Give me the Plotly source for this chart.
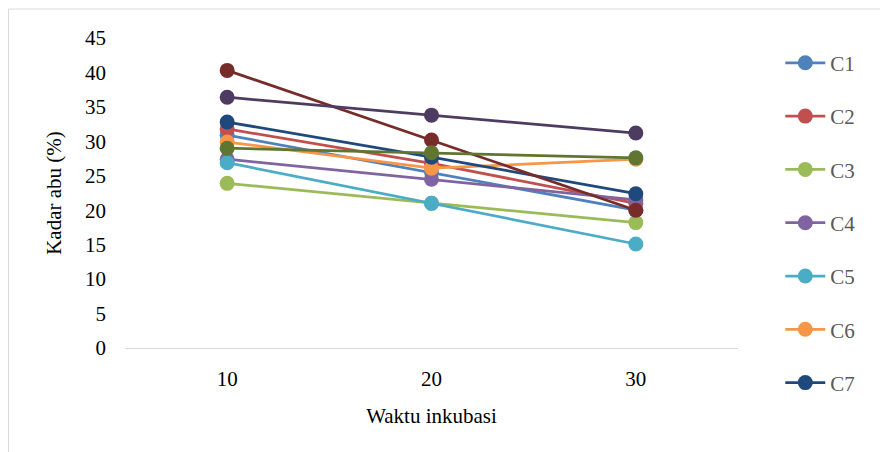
import plotly.graph_objects as go

waktu = ["10", "20", "30"]
series_names = ["C1", "C2", "C3", "C4", "C5", "C6", "C7", "C8", "C9", "C10"]
C1 = [30.9, 25.5, 20.0]
C2 = [31.8, 26.8, 21.0]
C3 = [23.9, 21.0, 18.2]
C4 = [27.4, 24.5, 21.5]
C5 = [26.9, 21.0, 15.1]
C6 = [29.9, 26.1, 27.4]
C7 = [32.8, 27.7, 22.4]
C8 = [40.3, 30.2, 20.0]
C9 = [29.0, 28.35, 27.6]
C10 = [36.4, 33.8, 31.2]
values = [C1, C2, C3, C4, C5, C6, C7, C8, C9, C10]
colors = ["#4F81BD", "#C0504D", "#9BBB59", "#8064A2", "#4BACC6", "#F79646",
          "#1F497D", "#772C2A", "#5F7530", "#4D3B62"]
legend_shown = [True] * 7 + [False] * 3

font_family = "Liberation Serif, DejaVu Serif, serif"

fig = go.Figure()
for name, vals, col, show in zip(series_names, values, colors, legend_shown):
    fig.add_trace(go.Scatter(
        x=waktu, y=vals, name=name, mode="lines+markers",
        line=dict(color=col, width=2.75),
        marker=dict(color=col, size=15),
        showlegend=show, legendgroup=name,
    ))

# page has an 8px body offset; plot area in figure coords: x 117..730, y 30..340
fig.update_layout(
    width=888, height=452,
    margin=dict(l=117, r=158, t=30, b=112),
    paper_bgcolor="white", plot_bgcolor="white",
    font=dict(family=font_family, size=21, color="#000000"),
    legend=dict(
        x=1.069, y=0.985, xanchor="left", yanchor="top",
        font=dict(size=21, color="#595959"),
        tracegroupgap=23, itemwidth=40, maxheight=440,
        bgcolor="rgba(0,0,0,0)",
    ),
    xaxis=dict(
        type="category", range=[-0.5, 2.5],
        showgrid=False, showline=True, linecolor="#D9D9D9", linewidth=1,
        ticks="", zeroline=False, ticklabelstandoff=12,
        title=dict(text="Waktu inkubasi", font=dict(size=21), standoff=18),
        tickfont=dict(size=21),
    ),
    yaxis=dict(
        range=[0, 45], dtick=5, showgrid=False, zeroline=False,
        showline=False, ticks="", ticklabelstandoff=18,
        title=dict(text="Kadar abu (%)", font=dict(size=21), standoff=17),
        tickfont=dict(size=21),
    ),
    shapes=[dict(type="rect", xref="paper", yref="paper",
                 x0=(0.5 - 117) / 613, x1=(900 - 117) / 613,
                 y0=(340 - 460) / 310, y1=(340 - 1) / 310,
                 line=dict(color="#D9D9D9", width=1),
                 fillcolor="rgba(0,0,0,0)", layer="below")],
)

fig.write_html("out.html")
